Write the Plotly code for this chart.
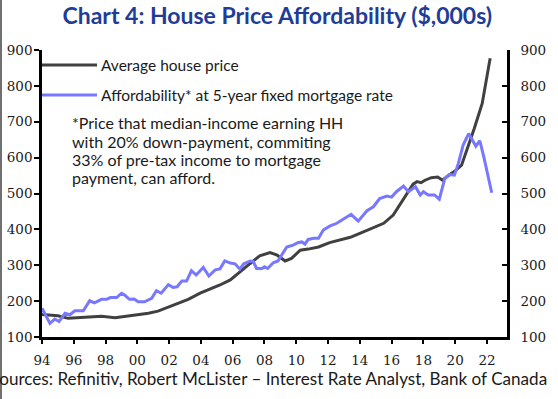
import plotly.graph_objects as go

# ---- data ----
house_x = [1994.0, 1994.5, 1995.0, 1995.65, 1996.3, 1996.9, 1997.75, 1998.6, 1999.4, 2000.05,
           2000.7, 2001.3, 2001.95, 2002.55, 2003.2, 2003.95, 2004.6, 2005.2, 2005.85, 2006.45,
           2007.1, 2007.7, 2008.35, 2008.8, 2009.3, 2009.7, 2010.25, 2010.75, 2011.4, 2012.1,
           2012.75, 2013.4, 2014.0, 2014.85, 2015.5, 2016.1, 2016.5, 2016.95, 2017.35, 2017.6,
           2017.85, 2018.1, 2018.5, 2018.9, 2019.2, 2019.6, 2020.05, 2020.4, 2020.75, 2021.2,
           2021.7, 2022.2]
house_price = [163, 161, 159, 152, 154, 156, 158, 154, 159, 164,
               166, 172, 183, 194, 205, 222, 233, 245, 259, 282,
               305, 326, 335, 328, 312, 319, 342, 345, 351, 363,
               370, 378, 389, 405, 417, 440, 468, 496, 526, 533,
               530, 537, 544, 546, 537, 551, 565, 579, 621, 681,
               751, 877]

afford_x = [1994.0, 1994.5, 1994.8, 1995.07, 1995.45, 1995.75, 1996.07, 1996.6, 1997.0, 1997.3,
            1997.75, 1998.07, 1998.3, 1998.7, 1999.0, 1999.2, 1999.5, 1999.8, 2000.05, 2000.45,
            2000.9, 2001.2, 2001.5, 2001.95, 2002.25, 2002.5, 2002.8, 2003.1, 2003.4, 2003.7,
            2004.15, 2004.5, 2004.9, 2005.2, 2005.5, 2005.85, 2006.15, 2006.45, 2006.7, 2007.1,
            2007.3, 2007.5, 2007.85, 2008.0, 2008.2, 2008.55, 2008.85, 2009.2, 2009.4, 2009.8,
            2010.1, 2010.35, 2010.55, 2010.75, 2011.1, 2011.4, 2011.7, 2012.1, 2012.55, 2012.95,
            2013.45, 2013.9, 2014.45, 2014.85, 2015.25, 2015.7, 2016.0, 2016.3, 2016.75, 2017.05,
            2017.5, 2017.8, 2018.0, 2018.3, 2018.7, 2019.0, 2019.35, 2019.65, 2019.95, 2020.2,
            2020.5, 2020.85, 2021.3, 2021.55, 2021.8, 2022.3]
affordability = [180, 138, 150, 143, 166, 162, 173, 173, 201, 195,
                 205, 205, 210, 210, 222, 217, 205, 206, 198, 198,
                 208, 229, 222, 246, 238, 240, 256, 256, 285, 273,
                 294, 270, 287, 290, 312, 306, 304, 289, 304, 312,
                 310, 291, 291, 296, 291, 307, 312, 335, 351, 356,
                 363, 365, 359, 372, 375, 375, 398, 409, 417, 428,
                 442, 423, 452, 463, 486, 493, 490, 505, 521, 505,
                 519, 496, 505, 496, 496, 484, 542, 553, 551, 584,
                 635, 667, 632, 647, 602, 502]

tick_years = [1994, 1996, 1998, 2000, 2002, 2004, 2006, 2008, 2010, 2012, 2014, 2016, 2018, 2020, 2022]
tick_labels = ["94", "96", "98", "00", "02", "04", "06", "08", "10", "12", "14", "16", "18", "20", "22"]
y_ticks = [100, 200, 300, 400, 500, 600, 700, 800, 900]

title_text = "Chart 4: House Price Affordability ($,000s)"
legend_house = "Average house price"
legend_afford = "Affordability* at 5-year fixed mortgage rate"
footnote_lines = ["*Price that median-income earning HH",
                  "with 20% down-payment, commiting",
                  "33% of pre-tax income to mortgage",
                  "payment, can afford."]
source = "Sources: Refinitiv, Robert McLister \u2013 Interest Rate Analyst, Bank of Canada"

FONT = "Lato, 'Noto Sans', sans-serif"
TICKFONT = "'DejaVu Serif', serif"
BLACK = "#404040"
BLUE = "#7878ff"
TXT = "#1a1a1a"

fig = go.Figure()
fig.add_trace(go.Scatter(x=house_x, y=house_price, mode="lines", name=legend_house,
                         line=dict(color=BLACK, width=3)))
fig.add_trace(go.Scatter(x=afford_x, y=affordability, mode="lines", name=legend_afford,
                         line=dict(color=BLUE, width=3), yaxis="y2"))

L, R, T, B = 42, 51, 50, 62
W, H = 558, 399
pw, ph = W - L - R, H - T - B

def px_x(p):
    return (p - L) / pw

def px_y(p):
    return (H - B - p) / ph

tf = dict(family=TICKFONT, size=13.5, color=TXT)

fig.update_layout(
    width=W, height=H,
    margin=dict(l=L, r=R, t=T, b=B, autoexpand=False),
    paper_bgcolor="white", plot_bgcolor="white",
    showlegend=False,
    font=dict(family=FONT, size=14, color=TXT),
    title=dict(text="<b>" + title_text + "</b>", x=0.497, xref="container", xanchor="center",
               y=1 - 16 / H, yref="container", yanchor="middle",
               font=dict(family=FONT, size=23, color="#1f3d96")),
    xaxis=dict(range=[1994, 2023.26], tickmode="array", tickvals=tick_years, ticktext=tick_labels,
               showgrid=False, zeroline=False, showline=True, linecolor="black", linewidth=2.5,
               ticks="outside", ticklen=4, tickwidth=2, tickcolor="black", automargin=False,
               ticklabelstandoff=5, tickfont=tf),
    yaxis=dict(range=[100, 900], tickvals=y_ticks, showgrid=False, zeroline=False,
               showline=True, linecolor="black", linewidth=2.5, automargin=False,
               ticks="outside", ticklen=5, tickwidth=2, tickcolor="black",
               ticklabelstandoff=-1, tickfont=tf),
    yaxis2=dict(range=[100, 900], tickvals=y_ticks, overlaying="y", side="right",
                showgrid=False, zeroline=False, showline=True, linecolor="black", linewidth=2.5,
                ticks="inside", ticklen=5, tickwidth=2, tickcolor="black", automargin=False,
                ticklabelstandoff=8, tickfont=tf),
)

# legend drawn inside the plot like the reference
fig.add_shape(type="line", xref="paper", yref="paper", x0=0, x1=px_x(97), y0=px_y(65), y1=px_y(65),
              line=dict(color=BLACK, width=3))
fig.add_shape(type="line", xref="paper", yref="paper", x0=0, x1=px_x(97), y0=px_y(95), y1=px_y(95),
              line=dict(color=BLUE, width=3))
fig.add_annotation(text=legend_house, xref="paper", yref="paper", x=px_x(99), y=px_y(65),
                   xanchor="left", yanchor="middle", showarrow=False, font=dict(size=15.5, color=TXT))
fig.add_annotation(text=legend_afford, xref="paper", yref="paper", x=px_x(99), y=px_y(95),
                   xanchor="left", yanchor="middle", showarrow=False, font=dict(size=15.5, color=TXT))
for i, line in enumerate(footnote_lines):
    fig.add_annotation(text=line, xref="paper", yref="paper", x=px_x(70), y=px_y(122.7 + 18.3 * i),
                       xanchor="left", yanchor="middle", align="left", showarrow=False,
                       font=dict(size=16, color=TXT))
fig.add_annotation(text=source, xref="paper", yref="paper", x=px_x(-12), y=px_y(378),
                   xanchor="left", yanchor="middle", showarrow=False, font=dict(size=17.1, color=TXT))
# grey frame edge at the left of the image
fig.add_shape(type="line", xref="paper", yref="paper", x0=px_x(1), x1=px_x(1), y0=px_y(0), y1=px_y(H),
              line=dict(color="#707070", width=2))

fig.write_html("out.html", config={"displayModeBar": False},
               post_script="document.body.style.margin='0';document.body.style.overflow='hidden';")
